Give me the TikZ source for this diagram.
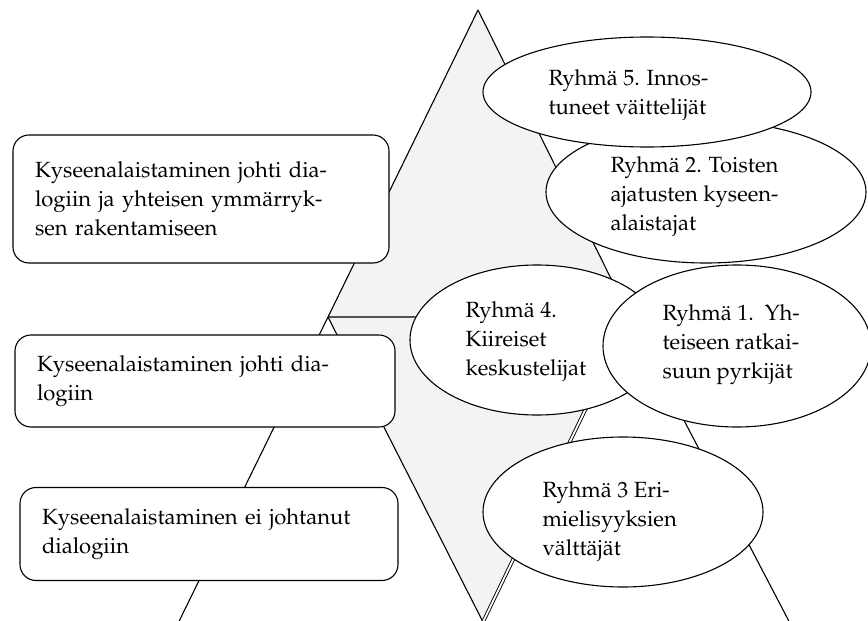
\documentclass[tikz,border=0pt]{standalone}
\usepackage[T1]{fontenc}
\usepackage{palatino}
\usetikzlibrary{shapes.geometric}

\definecolor{wedgegray}{RGB}{242,243,243}

\begin{document}
\begin{tikzpicture}[x=1pt, y=-1pt, line width=1.1pt, line join=round,
    claimbox/.style={draw, fill=white, rounded corners=16pt, align=left, inner xsep=22pt, inner ysep=0pt, font=\fontsize{22}{29}\selectfont},
    groupoval/.style={draw, fill=white, ellipse, inner sep=0pt},
    grouptext/.style={align=left, anchor=west, inner sep=0pt, font=\fontsize{22}{29}\selectfont}]
    \useasboundingbox (0,0) rectangle (868,621);
    \clip (0,0) rectangle (868,621);

    % --- corner points of the triangle ---
    \coordinate (apex) at (478,10);
    \coordinate (midleft) at (328,317);
    \coordinate (midright) at (630,317);
    \coordinate (lowtip) at (483,622);

    % lower band (white), runs out of the picture
    \draw (midleft) -- (165,650);
    \draw (midright) -- (804,650);

    % lower wedge (grey), right edge drawn double
    \fill[wedgegray] (midleft) -- (midright) -- (lowtip) -- cycle;
    \draw (midleft) -- (lowtip);
    \draw[double, double distance=1.8pt, line width=0.9pt] (midright) -- (lowtip);

    % upper wedge (grey)
    \filldraw[fill=wedgegray] (apex) -- (midleft) -- (midright) -- cycle;

    % --- boxes on the left ---
    \node[claimbox, text width=332pt, minimum height=128pt] (dialogbuild) at (201,199) {Kyseenalaistaminen johti dia-\\logiin ja yhteisen ymmärryk-\\sen rakentamiseen};
    \node[claimbox, text width=336pt, minimum height=92pt] (dialogyes) at (205,381) {Kyseenalaistaminen johti dia-\\logiin};
    \node[claimbox, text width=334pt, minimum height=93pt] (dialogno) at (209,534) {Kyseenalaistaminen ei johtanut\\dialogiin};

    % --- group ovals ---
    \node[groupoval, minimum width=320pt, minimum height=142pt] (group2) at (706,192) {};
    \node[groupoval, minimum width=328pt, minimum height=110pt] (group5) at (647,92) {};
    \node[groupoval, minimum width=254pt, minimum height=150pt] (group4) at (537,340) {};
    \node[groupoval, minimum width=268pt, minimum height=162pt] (group1) at (737,346) {};
    \node[groupoval, minimum width=280pt, minimum height=150pt] (group3) at (623,512) {};

    \node[grouptext] (label5) at (548,95) {Ryhmä 5. Innos-\\tuneet väittelijät};
    \node[grouptext] (label2) at (610,197) {Ryhmä 2. Toisten\\ajatusten kyseen-\\alaistajat};
    \node[grouptext] (label4) at (465,342) {Ryhmä 4.\\Kiireiset\\keskustelijat};
    \node[grouptext] (label1) at (662,345) {Ryhmä 1.\ \ Yh-\\teiseen ratkai-\\suun pyrkijät};
    \node[grouptext] (label3) at (542,522) {Ryhmä 3 Eri-\\mielisyyksien\\välttäjät};

\end{tikzpicture}
\end{document}
